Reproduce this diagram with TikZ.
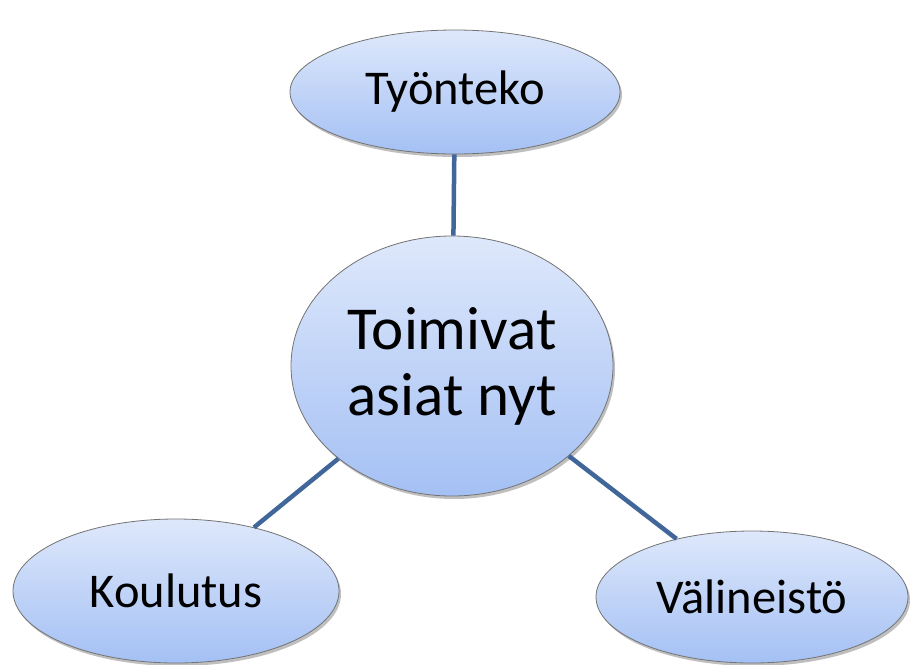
\documentclass[tikz,border=0pt]{standalone}
\usepackage{fontspec}
\setmainfont{Carlito}
\usetikzlibrary{shapes.geometric,shadows}
\definecolor{linkblue}{HTML}{41679A}
\definecolor{bubbletop}{HTML}{DEE8FB}
\definecolor{bubblebot}{HTML}{A4C0F4}
\begin{document}
\begin{tikzpicture}[x=1pt,y=-1pt]
        \tikzset{bubble/.style={ellipse,draw=black!55,line width=0.8pt,inner sep=0pt,
                top color=bubbletop,bottom color=bubblebot,
                drop shadow={shadow xshift=2pt,shadow yshift=-3pt,opacity=0.25,fill=black},
                font=\fontsize{48.5}{58}\selectfont},
            link/.style={draw=linkblue,line width=4.5pt}}
        \useasboundingbox (0,0) rectangle (910,664);
        \node[bubble,minimum width=330pt,minimum height=124pt] (tyonteko) at (455,92) {Työnteko};
        \node[bubble,minimum width=322pt,minimum height=260pt,align=center,
            font=\fontsize{61}{66}\selectfont] (toimivat) at (452,366) {Toimivat\\asiat nyt};
        \node[bubble,minimum width=326pt,minimum height=144pt] (koulutus) at (176,591) {Koulutus};
        \node[bubble,minimum width=312pt,minimum height=132pt] (valineisto) at (752,597) {Välineistö};
        \draw[link] (tyonteko) -- (toimivat);
        \draw[link] (toimivat) -- (koulutus);
        \draw[link] (toimivat) -- (valineisto);
    \end{tikzpicture}
\end{document}
